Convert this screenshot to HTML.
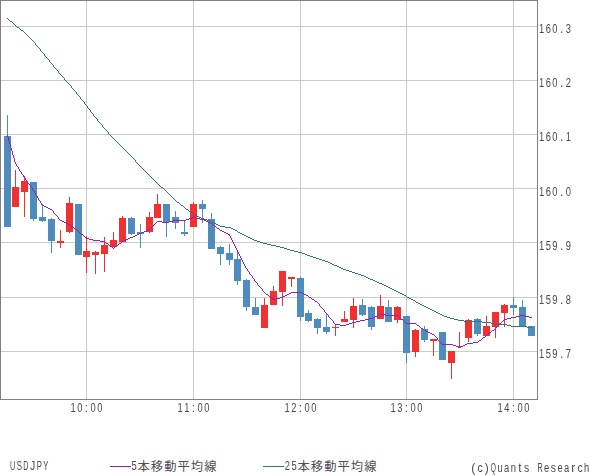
<!DOCTYPE html>
<html lang="ja"><head><meta charset="utf-8"><title>USDJPY</title>
<style>html,body{margin:0;padding:0;background:#fff;}body{width:600px;height:475px;overflow:hidden;font-family:"Liberation Sans",sans-serif;}svg{display:block;}</style>
</head><body>
<svg width="600" height="475" viewBox="0 0 600 475">
<rect x="0" y="0" width="600" height="475" fill="#ffffff"/>
<g shape-rendering="crispEdges" fill="#cbcbcb">
<rect x="1" y="26" width="536" height="1"/>
<rect x="1" y="80" width="536" height="1"/>
<rect x="1" y="134" width="536" height="1"/>
<rect x="1" y="188" width="536" height="1"/>
<rect x="1" y="242" width="536" height="1"/>
<rect x="1" y="297" width="536" height="1"/>
<rect x="1" y="351" width="536" height="1"/>
<rect x="86" y="1" width="1" height="398"/>
<rect x="193" y="1" width="1" height="398"/>
<rect x="300" y="1" width="1" height="398"/>
<rect x="406" y="1" width="1" height="398"/>
<rect x="513" y="1" width="1" height="398"/>
</g>
<g>
<rect x="7" y="115" width="1" height="112" fill="#4d8cbc"/>
<rect x="4" y="136" width="7" height="91" fill="#4d8cbc"/>
<rect x="15" y="170" width="1" height="37" fill="#f23030"/>
<rect x="12" y="187" width="7" height="20" fill="#f23030"/>
<rect x="24" y="176" width="1" height="41" fill="#f23030"/>
<rect x="21" y="181" width="7" height="11" fill="#f23030"/>
<rect x="33" y="182" width="1" height="39" fill="#4d8cbc"/>
<rect x="30" y="182" width="7" height="37" fill="#4d8cbc"/>
<rect x="42" y="204" width="1" height="18" fill="#4d8cbc"/>
<rect x="39" y="217" width="7" height="4" fill="#4d8cbc"/>
<rect x="51" y="218" width="1" height="35" fill="#4d8cbc"/>
<rect x="48" y="219" width="7" height="22" fill="#4d8cbc"/>
<rect x="60" y="230" width="1" height="18" fill="#f23030"/>
<rect x="57" y="241" width="7" height="2" fill="#f23030"/>
<rect x="69" y="197" width="1" height="36" fill="#f23030"/>
<rect x="66" y="203" width="7" height="29" fill="#f23030"/>
<rect x="78" y="204" width="1" height="51" fill="#4d8cbc"/>
<rect x="75" y="204" width="7" height="51" fill="#4d8cbc"/>
<rect x="86" y="236" width="1" height="37" fill="#f23030"/>
<rect x="83" y="251" width="7" height="6" fill="#f23030"/>
<rect x="95" y="251" width="1" height="23" fill="#f23030"/>
<rect x="92" y="252" width="7" height="3" fill="#f23030"/>
<rect x="104" y="237" width="1" height="35" fill="#f23030"/>
<rect x="101" y="245" width="7" height="9" fill="#f23030"/>
<rect x="113" y="232" width="1" height="15" fill="#f23030"/>
<rect x="110" y="240" width="7" height="7" fill="#f23030"/>
<rect x="122" y="216" width="1" height="26" fill="#f23030"/>
<rect x="119" y="218" width="7" height="24" fill="#f23030"/>
<rect x="131" y="217" width="1" height="18" fill="#4d8cbc"/>
<rect x="128" y="218" width="7" height="16" fill="#4d8cbc"/>
<rect x="140" y="224" width="1" height="24" fill="#4d8cbc"/>
<rect x="137" y="232" width="7" height="2" fill="#4d8cbc"/>
<rect x="149" y="212" width="1" height="21" fill="#f23030"/>
<rect x="146" y="217" width="7" height="15" fill="#f23030"/>
<rect x="157" y="194" width="1" height="24" fill="#f23030"/>
<rect x="154" y="204" width="7" height="14" fill="#f23030"/>
<rect x="166" y="204" width="1" height="33" fill="#4d8cbc"/>
<rect x="163" y="204" width="7" height="18" fill="#4d8cbc"/>
<rect x="175" y="211" width="1" height="18" fill="#4d8cbc"/>
<rect x="172" y="217" width="7" height="6" fill="#4d8cbc"/>
<rect x="184" y="220" width="1" height="16" fill="#4d8cbc"/>
<rect x="181" y="232" width="7" height="2" fill="#4d8cbc"/>
<rect x="193" y="202" width="1" height="25" fill="#f23030"/>
<rect x="190" y="204" width="7" height="23" fill="#f23030"/>
<rect x="202" y="200" width="1" height="23" fill="#4d8cbc"/>
<rect x="199" y="204" width="7" height="5" fill="#4d8cbc"/>
<rect x="211" y="213" width="1" height="36" fill="#4d8cbc"/>
<rect x="208" y="219" width="7" height="30" fill="#4d8cbc"/>
<rect x="220" y="246" width="1" height="19" fill="#4d8cbc"/>
<rect x="217" y="247" width="7" height="7" fill="#4d8cbc"/>
<rect x="229" y="244" width="1" height="21" fill="#4d8cbc"/>
<rect x="226" y="253" width="7" height="7" fill="#4d8cbc"/>
<rect x="237" y="251" width="1" height="34" fill="#4d8cbc"/>
<rect x="234" y="259" width="7" height="22" fill="#4d8cbc"/>
<rect x="246" y="279" width="1" height="32" fill="#4d8cbc"/>
<rect x="243" y="280" width="7" height="27" fill="#4d8cbc"/>
<rect x="255" y="298" width="1" height="17" fill="#4d8cbc"/>
<rect x="252" y="307" width="7" height="8" fill="#4d8cbc"/>
<rect x="264" y="298" width="1" height="30" fill="#f23030"/>
<rect x="261" y="305" width="7" height="23" fill="#f23030"/>
<rect x="273" y="286" width="1" height="19" fill="#f23030"/>
<rect x="270" y="291" width="7" height="14" fill="#f23030"/>
<rect x="282" y="271" width="1" height="35" fill="#f23030"/>
<rect x="279" y="271" width="7" height="21" fill="#f23030"/>
<rect x="291" y="277" width="1" height="10" fill="#f23030"/>
<rect x="288" y="277" width="7" height="2" fill="#f23030"/>
<rect x="300" y="277" width="1" height="44" fill="#4d8cbc"/>
<rect x="297" y="278" width="7" height="39" fill="#4d8cbc"/>
<rect x="308" y="310" width="1" height="12" fill="#4d8cbc"/>
<rect x="305" y="313" width="7" height="8" fill="#4d8cbc"/>
<rect x="317" y="318" width="1" height="16" fill="#4d8cbc"/>
<rect x="314" y="319" width="7" height="9" fill="#4d8cbc"/>
<rect x="326" y="313" width="1" height="21" fill="#4d8cbc"/>
<rect x="323" y="327" width="7" height="5" fill="#4d8cbc"/>
<rect x="335" y="324" width="1" height="12" fill="#f23030"/>
<rect x="332" y="327" width="7" height="1" fill="#f23030"/>
<rect x="344" y="311" width="1" height="11" fill="#f23030"/>
<rect x="341" y="319" width="7" height="3" fill="#f23030"/>
<rect x="353" y="298" width="1" height="30" fill="#f23030"/>
<rect x="350" y="306" width="7" height="14" fill="#f23030"/>
<rect x="362" y="299" width="1" height="17" fill="#4d8cbc"/>
<rect x="359" y="305" width="7" height="10" fill="#4d8cbc"/>
<rect x="371" y="306" width="1" height="24" fill="#4d8cbc"/>
<rect x="368" y="307" width="7" height="20" fill="#4d8cbc"/>
<rect x="380" y="295" width="1" height="24" fill="#f23030"/>
<rect x="377" y="306" width="7" height="13" fill="#f23030"/>
<rect x="388" y="300" width="1" height="22" fill="#4d8cbc"/>
<rect x="385" y="307" width="7" height="15" fill="#4d8cbc"/>
<rect x="397" y="306" width="1" height="17" fill="#f23030"/>
<rect x="394" y="307" width="7" height="13" fill="#f23030"/>
<rect x="406" y="316" width="1" height="47" fill="#4d8cbc"/>
<rect x="403" y="316" width="7" height="37" fill="#4d8cbc"/>
<rect x="415" y="329" width="1" height="28" fill="#f23030"/>
<rect x="412" y="330" width="7" height="22" fill="#f23030"/>
<rect x="424" y="326" width="1" height="16" fill="#4d8cbc"/>
<rect x="421" y="329" width="7" height="11" fill="#4d8cbc"/>
<rect x="433" y="339" width="1" height="17" fill="#f23030"/>
<rect x="430" y="339" width="7" height="2" fill="#f23030"/>
<rect x="442" y="332" width="1" height="28" fill="#4d8cbc"/>
<rect x="439" y="332" width="7" height="28" fill="#4d8cbc"/>
<rect x="451" y="351" width="1" height="28" fill="#f23030"/>
<rect x="448" y="351" width="7" height="12" fill="#f23030"/>
<rect x="459" y="332" width="1" height="15" fill="#f23030"/>
<rect x="456" y="346" width="7" height="1" fill="#f23030"/>
<rect x="468" y="319" width="1" height="23" fill="#f23030"/>
<rect x="465" y="320" width="7" height="18" fill="#f23030"/>
<rect x="477" y="318" width="1" height="18" fill="#4d8cbc"/>
<rect x="474" y="319" width="7" height="15" fill="#4d8cbc"/>
<rect x="486" y="316" width="1" height="20" fill="#f23030"/>
<rect x="483" y="326" width="7" height="10" fill="#f23030"/>
<rect x="495" y="312" width="1" height="26" fill="#f23030"/>
<rect x="492" y="312" width="7" height="15" fill="#f23030"/>
<rect x="504" y="304" width="1" height="23" fill="#f23030"/>
<rect x="501" y="305" width="7" height="8" fill="#f23030"/>
<rect x="513" y="297" width="1" height="18" fill="#4d8cbc"/>
<rect x="510" y="305" width="7" height="3" fill="#4d8cbc"/>
<rect x="522" y="300" width="1" height="26" fill="#4d8cbc"/>
<rect x="519" y="307" width="7" height="19" fill="#4d8cbc"/>
<rect x="531" y="326" width="1" height="10" fill="#4d8cbc"/>
<rect x="528" y="326" width="7" height="10" fill="#4d8cbc"/>
</g>
<path fill="#2c7979" shape-rendering="crispEdges" d="M7 18h1v1h-1zM8 19h1v1h-1zM9 20h1v1h-1zM10 21h2v1h-2zM12 22h1v1h-1zM13 23h1v1h-1zM14 24h1v1h-1zM15 25h1v1h-1zM16 26h1v1h-1zM17 27h2v1h-2zM19 28h1v1h-1zM20 29h1v1h-1zM21 30h2v1h-2zM23 31h1v1h-1zM24 32h1v1h-1zM25 33h1v1h-1zM26 34h1v1h-1zM27 35h1v1h-1zM28 36h1v1h-1zM29 37h1v1h-1zM30 38h1v1h-1zM31 39h1v1h-1zM32 40h1v1h-1zM33 41h1v1h-1zM34 42h1v1h-1zM35 43h1v1h-1zM35 44h1v1h-1zM36 45h1v1h-1zM37 46h1v1h-1zM38 47h1v1h-1zM39 48h1v1h-1zM40 49h1v1h-1zM40 50h1v1h-1zM41 51h1v1h-1zM42 52h1v1h-1zM43 53h1v1h-1zM44 54h1v1h-1zM44 55h1v1h-1zM45 56h1v1h-1zM46 57h1v1h-1zM47 58h1v1h-1zM48 59h1v1h-1zM49 60h1v1h-1zM49 61h1v1h-1zM50 62h1v1h-1zM51 63h1v1h-1zM52 64h1v1h-1zM53 65h1v1h-1zM53 66h1v1h-1zM54 67h1v1h-1zM55 68h1v1h-1zM56 69h1v1h-1zM57 70h1v1h-1zM58 71h1v1h-1zM58 72h1v1h-1zM59 73h1v1h-1zM60 74h1v1h-1zM61 75h1v1h-1zM62 76h1v1h-1zM63 77h1v1h-1zM64 78h1v1h-1zM64 79h1v1h-1zM65 80h1v1h-1zM66 81h1v1h-1zM67 82h1v1h-1zM68 83h1v1h-1zM69 84h1v1h-1zM70 85h1v1h-1zM71 86h1v1h-1zM71 87h1v1h-1zM72 88h1v1h-1zM73 89h1v1h-1zM74 90h1v1h-1zM75 91h1v1h-1zM76 92h1v1h-1zM76 93h1v1h-1zM77 94h1v1h-1zM78 95h1v1h-1zM79 96h1v1h-1zM80 97h1v1h-1zM80 98h1v1h-1zM81 99h1v1h-1zM82 100h1v1h-1zM83 101h1v1h-1zM84 102h1v1h-1zM84 103h1v1h-1zM85 104h1v1h-1zM86 105h1v1h-1zM87 106h1v1h-1zM87 107h1v1h-1zM88 108h1v1h-1zM89 109h1v1h-1zM90 110h1v1h-1zM90 111h1v1h-1zM91 112h1v1h-1zM92 113h1v1h-1zM93 114h1v1h-1zM93 115h1v1h-1zM94 116h1v1h-1zM95 117h1v1h-1zM96 118h1v1h-1zM97 119h1v1h-1zM97 120h1v1h-1zM98 121h1v1h-1zM99 122h1v1h-1zM100 123h1v1h-1zM101 124h1v1h-1zM102 125h1v1h-1zM102 126h1v1h-1zM103 127h1v1h-1zM104 128h1v1h-1zM105 129h1v1h-1zM106 130h1v1h-1zM107 131h1v1h-1zM108 132h1v1h-1zM108 133h1v1h-1zM109 134h1v1h-1zM110 135h1v1h-1zM111 136h1v1h-1zM112 137h1v1h-1zM113 138h1v1h-1zM114 139h1v1h-1zM115 140h1v1h-1zM116 141h1v1h-1zM117 142h1v1h-1zM118 143h1v1h-1zM119 144h1v1h-1zM120 145h1v1h-1zM121 146h1v1h-1zM122 147h1v1h-1zM123 148h1v1h-1zM124 149h1v1h-1zM125 150h1v1h-1zM126 151h1v1h-1zM127 152h1v1h-1zM128 153h1v1h-1zM129 154h1v1h-1zM130 155h1v1h-1zM131 156h1v1h-1zM132 157h1v1h-1zM133 158h1v1h-1zM134 159h1v1h-1zM135 160h1v1h-1zM135 161h1v1h-1zM136 162h1v1h-1zM137 163h1v1h-1zM138 164h1v1h-1zM139 165h1v1h-1zM140 166h1v1h-1zM141 167h1v1h-1zM142 168h1v1h-1zM143 169h1v1h-1zM144 170h1v1h-1zM145 171h1v1h-1zM146 172h1v1h-1zM147 173h1v1h-1zM148 174h1v1h-1zM149 175h1v1h-1zM150 176h1v1h-1zM151 177h1v1h-1zM152 178h1v1h-1zM153 179h1v1h-1zM154 180h1v1h-1zM155 181h1v1h-1zM156 182h1v1h-1zM157 183h1v1h-1zM158 184h1v1h-1zM159 185h1v1h-1zM160 186h1v1h-1zM161 187h2v1h-2zM163 188h1v1h-1zM164 189h1v1h-1zM165 190h1v1h-1zM166 191h1v1h-1zM167 192h1v1h-1zM168 193h1v1h-1zM169 194h1v1h-1zM170 195h1v1h-1zM171 196h1v1h-1zM172 197h1v1h-1zM173 198h1v1h-1zM174 199h1v1h-1zM175 200h1v1h-1zM176 201h1v1h-1zM177 202h2v1h-2zM179 203h1v1h-1zM180 204h1v1h-1zM181 205h2v1h-2zM183 206h1v1h-1zM184 207h1v1h-1zM185 208h1v1h-1zM186 209h2v1h-2zM188 210h1v1h-1zM189 211h1v1h-1zM190 212h2v1h-2zM192 213h1v1h-1zM193 214h2v1h-2zM195 215h2v1h-2zM197 216h2v1h-2zM199 217h2v1h-2zM201 218h3v1h-3zM204 219h3v1h-3zM207 220h3v1h-3zM210 221h2v1h-2zM212 222h2v1h-2zM214 223h2v1h-2zM216 224h2v1h-2zM218 225h2v1h-2zM220 226h5v1h-5zM225 227h6v1h-6zM231 228h2v1h-2zM233 229h2v1h-2zM235 230h2v1h-2zM237 231h1v1h-1zM238 232h2v1h-2zM240 233h2v1h-2zM242 234h2v1h-2zM244 235h2v1h-2zM246 236h2v1h-2zM248 237h2v1h-2zM250 238h2v1h-2zM252 239h2v1h-2zM254 240h3v1h-3zM257 241h3v1h-3zM260 242h3v1h-3zM263 243h4v1h-4zM267 244h4v1h-4zM271 245h5v1h-5zM276 246h4v1h-4zM280 247h4v1h-4zM284 248h3v1h-3zM287 249h3v1h-3zM290 250h4v1h-4zM294 251h4v1h-4zM298 252h4v1h-4zM302 253h3v1h-3zM305 254h2v1h-2zM307 255h3v1h-3zM310 256h3v1h-3zM313 257h3v1h-3zM316 258h3v1h-3zM319 259h3v1h-3zM322 260h3v1h-3zM325 261h3v1h-3zM328 262h2v1h-2zM330 263h2v1h-2zM332 264h2v1h-2zM334 265h3v1h-3zM337 266h2v1h-2zM339 267h2v1h-2zM341 268h2v1h-2zM343 269h3v1h-3zM346 270h3v1h-3zM349 271h3v1h-3zM352 272h3v1h-3zM355 273h3v1h-3zM358 274h3v1h-3zM361 275h3v1h-3zM364 276h2v1h-2zM366 277h2v1h-2zM368 278h2v1h-2zM370 279h3v1h-3zM373 280h2v1h-2zM375 281h2v1h-2zM377 282h2v1h-2zM379 283h3v1h-3zM382 284h2v1h-2zM384 285h2v1h-2zM386 286h2v1h-2zM388 287h2v1h-2zM390 288h2v1h-2zM392 289h2v1h-2zM394 290h2v1h-2zM396 291h2v1h-2zM398 292h2v1h-2zM400 293h2v1h-2zM402 294h2v1h-2zM404 295h2v1h-2zM406 296h1v1h-1zM407 297h2v1h-2zM409 298h2v1h-2zM411 299h2v1h-2zM413 300h2v1h-2zM415 301h1v1h-1zM416 302h2v1h-2zM418 303h2v1h-2zM420 304h2v1h-2zM422 305h2v1h-2zM424 306h2v1h-2zM426 307h2v1h-2zM428 308h2v1h-2zM430 309h2v1h-2zM432 310h2v1h-2zM434 311h2v1h-2zM436 312h2v1h-2zM438 313h2v1h-2zM440 314h2v1h-2zM442 315h2v1h-2zM444 316h3v1h-3zM447 317h3v1h-3zM450 318h4v1h-4zM454 319h4v1h-4zM458 320h6v1h-6zM464 321h18v1h-18zM482 322h9v1h-9zM491 323h9v1h-9zM500 324h7v1h-7zM507 325h4v1h-4zM511 326h16v1h-16zM527 327h5v1h-5z"/>
<path fill="#9b1cb6" shape-rendering="crispEdges" d="M7 135h1v1h-1zM7 136h1v1h-1zM8 137h1v1h-1zM8 138h1v1h-1zM8 139h1v1h-1zM8 140h1v1h-1zM9 141h1v1h-1zM9 142h1v1h-1zM9 143h1v1h-1zM10 144h1v1h-1zM10 145h1v1h-1zM10 146h1v1h-1zM10 147h1v1h-1zM11 148h1v1h-1zM11 149h1v1h-1zM11 150h1v1h-1zM12 151h1v1h-1zM12 152h1v1h-1zM12 153h1v1h-1zM12 154h1v1h-1zM13 155h1v1h-1zM13 156h1v1h-1zM13 157h1v1h-1zM14 158h1v1h-1zM14 159h1v1h-1zM14 160h1v1h-1zM14 161h1v1h-1zM15 162h1v1h-1zM15 163h1v1h-1zM16 164h1v1h-1zM16 165h1v1h-1zM17 166h1v1h-1zM18 167h1v1h-1zM18 168h1v1h-1zM19 169h1v1h-1zM19 170h1v1h-1zM20 171h1v1h-1zM21 172h1v1h-1zM21 173h1v1h-1zM22 174h1v1h-1zM23 175h1v1h-1zM23 176h1v1h-1zM24 177h1v1h-1zM25 178h1v1h-1zM25 179h1v1h-1zM26 180h1v1h-1zM27 181h1v1h-1zM27 182h1v1h-1zM28 183h1v1h-1zM29 184h1v1h-1zM30 185h1v1h-1zM30 186h1v1h-1zM31 187h1v1h-1zM32 188h1v1h-1zM32 189h1v1h-1zM33 190h1v1h-1zM34 191h1v1h-1zM34 192h1v1h-1zM35 193h1v1h-1zM35 194h1v1h-1zM36 195h1v1h-1zM37 196h1v1h-1zM37 197h1v1h-1zM38 198h1v1h-1zM38 199h1v1h-1zM39 200h1v1h-1zM40 201h1v1h-1zM40 202h1v1h-1zM41 203h1v1h-1zM41 204h1v1h-1zM42 205h2v1h-2zM44 206h2v1h-2zM46 207h2v1h-2zM48 208h2v1h-2zM50 209h2v1h-2zM52 210h1v1h-1zM53 211h1v1h-1zM53 212h1v1h-1zM54 213h1v1h-1zM55 214h1v1h-1zM56 215h1v1h-1zM57 216h1v1h-1zM58 217h1v1h-1zM192 217h4v1h-4zM58 218h1v1h-1zM189 218h3v1h-3zM196 218h4v1h-4zM59 219h1v1h-1zM186 219h3v1h-3zM200 219h4v1h-4zM60 220h2v1h-2zM173 220h13v1h-13zM204 220h2v1h-2zM62 221h2v1h-2zM157 221h5v1h-5zM169 221h4v1h-4zM206 221h2v1h-2zM64 222h2v1h-2zM156 222h1v1h-1zM162 222h7v1h-7zM208 222h2v1h-2zM66 223h2v1h-2zM155 223h1v1h-1zM210 223h2v1h-2zM68 224h2v1h-2zM154 224h1v1h-1zM212 224h1v1h-1zM70 225h1v1h-1zM153 225h1v1h-1zM213 225h2v1h-2zM71 226h2v1h-2zM152 226h1v1h-1zM215 226h1v1h-1zM73 227h1v1h-1zM151 227h1v1h-1zM216 227h1v1h-1zM74 228h1v1h-1zM150 228h1v1h-1zM217 228h2v1h-2zM75 229h2v1h-2zM148 229h2v1h-2zM219 229h1v1h-1zM77 230h1v1h-1zM146 230h2v1h-2zM220 230h2v1h-2zM78 231h1v1h-1zM144 231h2v1h-2zM222 231h2v1h-2zM79 232h1v1h-1zM142 232h2v1h-2zM224 232h2v1h-2zM80 233h1v1h-1zM139 233h3v1h-3zM226 233h2v1h-2zM81 234h2v1h-2zM137 234h2v1h-2zM228 234h2v1h-2zM83 235h1v1h-1zM135 235h2v1h-2zM229 235h1v1h-1zM84 236h1v1h-1zM133 236h2v1h-2zM230 236h1v1h-1zM85 237h1v1h-1zM130 237h3v1h-3zM230 237h1v1h-1zM86 238h3v1h-3zM128 238h2v1h-2zM231 238h1v1h-1zM89 239h4v1h-4zM126 239h2v1h-2zM231 239h1v1h-1zM93 240h7v1h-7zM124 240h2v1h-2zM232 240h1v1h-1zM100 241h5v1h-5zM122 241h2v1h-2zM232 241h1v1h-1zM105 242h1v1h-1zM121 242h1v1h-1zM233 242h1v1h-1zM106 243h2v1h-2zM119 243h2v1h-2zM233 243h1v1h-1zM108 244h1v1h-1zM118 244h1v1h-1zM234 244h1v1h-1zM109 245h1v1h-1zM117 245h1v1h-1zM234 245h1v1h-1zM110 246h2v1h-2zM115 246h2v1h-2zM235 246h1v1h-1zM112 247h1v1h-1zM114 247h1v1h-1zM235 247h1v1h-1zM113 248h1v1h-1zM236 248h1v1h-1zM236 249h1v1h-1zM237 250h1v1h-1zM237 251h1v1h-1zM238 252h1v1h-1zM238 253h1v1h-1zM239 254h1v1h-1zM239 255h1v1h-1zM240 256h1v1h-1zM240 257h1v1h-1zM241 258h1v1h-1zM241 259h1v1h-1zM242 260h1v1h-1zM242 261h1v1h-1zM243 262h1v1h-1zM243 263h1v1h-1zM244 264h1v1h-1zM244 265h1v1h-1zM245 266h1v1h-1zM245 267h1v1h-1zM246 268h1v1h-1zM247 269h1v1h-1zM247 270h1v1h-1zM248 271h1v1h-1zM249 272h1v1h-1zM249 273h1v1h-1zM250 274h1v1h-1zM251 275h1v1h-1zM252 276h1v1h-1zM252 277h1v1h-1zM253 278h1v1h-1zM254 279h1v1h-1zM254 280h1v1h-1zM255 281h1v1h-1zM256 282h1v1h-1zM257 283h1v1h-1zM257 284h1v1h-1zM258 285h1v1h-1zM259 286h1v1h-1zM260 287h1v1h-1zM261 288h1v1h-1zM262 289h1v1h-1zM262 290h1v1h-1zM263 291h1v1h-1zM264 292h1v1h-1zM291 292h11v1h-11zM265 293h1v1h-1zM289 293h2v1h-2zM302 293h2v1h-2zM266 294h2v1h-2zM287 294h2v1h-2zM304 294h2v1h-2zM268 295h1v1h-1zM285 295h2v1h-2zM306 295h2v1h-2zM269 296h1v1h-1zM283 296h2v1h-2zM308 296h1v1h-1zM270 297h2v1h-2zM280 297h3v1h-3zM309 297h2v1h-2zM272 298h1v1h-1zM276 298h4v1h-4zM311 298h1v1h-1zM273 299h3v1h-3zM312 299h2v1h-2zM314 300h1v1h-1zM315 301h2v1h-2zM317 302h1v1h-1zM318 303h1v1h-1zM319 304h1v1h-1zM319 305h1v1h-1zM320 306h1v1h-1zM321 307h1v1h-1zM322 308h1v1h-1zM323 309h1v1h-1zM324 310h1v1h-1zM324 311h1v1h-1zM325 312h1v1h-1zM326 313h1v1h-1zM327 314h1v1h-1zM379 314h6v1h-6zM328 315h1v1h-1zM377 315h2v1h-2zM385 315h13v1h-13zM520 315h5v1h-5zM328 316h1v1h-1zM375 316h2v1h-2zM398 316h1v1h-1zM516 316h4v1h-4zM525 316h4v1h-4zM329 317h1v1h-1zM373 317h2v1h-2zM399 317h1v1h-1zM511 317h5v1h-5zM529 317h3v1h-3zM330 318h1v1h-1zM369 318h4v1h-4zM400 318h1v1h-1zM507 318h4v1h-4zM331 319h1v1h-1zM365 319h4v1h-4zM401 319h2v1h-2zM504 319h3v1h-3zM332 320h1v1h-1zM360 320h5v1h-5zM403 320h1v1h-1zM503 320h1v1h-1zM333 321h1v1h-1zM356 321h4v1h-4zM404 321h1v1h-1zM502 321h1v1h-1zM333 322h1v1h-1zM352 322h4v1h-4zM405 322h1v1h-1zM501 322h1v1h-1zM334 323h1v1h-1zM349 323h3v1h-3zM406 323h10v1h-10zM500 323h1v1h-1zM335 324h5v1h-5zM346 324h3v1h-3zM416 324h1v1h-1zM499 324h1v1h-1zM340 325h6v1h-6zM417 325h2v1h-2zM498 325h1v1h-1zM419 326h1v1h-1zM497 326h1v1h-1zM420 327h1v1h-1zM496 327h1v1h-1zM421 328h2v1h-2zM495 328h1v1h-1zM423 329h1v1h-1zM494 329h1v1h-1zM424 330h2v1h-2zM492 330h2v1h-2zM426 331h2v1h-2zM491 331h1v1h-1zM428 332h2v1h-2zM490 332h1v1h-1zM430 333h2v1h-2zM488 333h2v1h-2zM432 334h2v1h-2zM487 334h1v1h-1zM434 335h1v1h-1zM486 335h1v1h-1zM435 336h1v1h-1zM485 336h1v1h-1zM436 337h1v1h-1zM483 337h2v1h-2zM437 338h1v1h-1zM482 338h1v1h-1zM437 339h1v1h-1zM481 339h1v1h-1zM438 340h1v1h-1zM479 340h2v1h-2zM439 341h1v1h-1zM478 341h1v1h-1zM440 342h1v1h-1zM473 342h5v1h-5zM441 343h1v1h-1zM467 343h6v1h-6zM442 344h11v1h-11zM465 344h2v1h-2zM453 345h3v1h-3zM463 345h2v1h-2zM456 346h2v1h-2zM461 346h2v1h-2zM458 347h3v1h-3z"/>
<g shape-rendering="crispEdges" fill="#808080">
<rect x="0" y="0" width="538" height="1"/><rect x="0" y="399" width="538" height="1"/><rect x="0" y="0" width="1" height="400"/><rect x="537" y="0" width="1" height="400"/>
</g>
<g font-family="Liberation Sans, sans-serif" fill="#4a4a4a" style="filter:grayscale(1)">
<text y="33" text-anchor="middle" font-size="12"><tspan x="541.63" textLength="5.2" lengthAdjust="spacingAndGlyphs">1</tspan><tspan x="548.3" textLength="5.2" lengthAdjust="spacingAndGlyphs">6</tspan><tspan x="554.97" textLength="5.2" lengthAdjust="spacingAndGlyphs">0</tspan><tspan x="561.63">.</tspan><tspan x="568.3" textLength="5.2" lengthAdjust="spacingAndGlyphs">3</tspan></text>
<text y="87" text-anchor="middle" font-size="12"><tspan x="541.63" textLength="5.2" lengthAdjust="spacingAndGlyphs">1</tspan><tspan x="548.3" textLength="5.2" lengthAdjust="spacingAndGlyphs">6</tspan><tspan x="554.97" textLength="5.2" lengthAdjust="spacingAndGlyphs">0</tspan><tspan x="561.63">.</tspan><tspan x="568.3" textLength="5.2" lengthAdjust="spacingAndGlyphs">2</tspan></text>
<text y="141" text-anchor="middle" font-size="12"><tspan x="541.63" textLength="5.2" lengthAdjust="spacingAndGlyphs">1</tspan><tspan x="548.3" textLength="5.2" lengthAdjust="spacingAndGlyphs">6</tspan><tspan x="554.97" textLength="5.2" lengthAdjust="spacingAndGlyphs">0</tspan><tspan x="561.63">.</tspan><tspan x="568.3" textLength="5.2" lengthAdjust="spacingAndGlyphs">1</tspan></text>
<text y="196" text-anchor="middle" font-size="12"><tspan x="541.63" textLength="5.2" lengthAdjust="spacingAndGlyphs">1</tspan><tspan x="548.3" textLength="5.2" lengthAdjust="spacingAndGlyphs">6</tspan><tspan x="554.97" textLength="5.2" lengthAdjust="spacingAndGlyphs">0</tspan><tspan x="561.63">.</tspan><tspan x="568.3" textLength="5.2" lengthAdjust="spacingAndGlyphs">0</tspan></text>
<text y="250" text-anchor="middle" font-size="12"><tspan x="541.63" textLength="5.2" lengthAdjust="spacingAndGlyphs">1</tspan><tspan x="548.3" textLength="5.2" lengthAdjust="spacingAndGlyphs">5</tspan><tspan x="554.97" textLength="5.2" lengthAdjust="spacingAndGlyphs">9</tspan><tspan x="561.63">.</tspan><tspan x="568.3" textLength="5.2" lengthAdjust="spacingAndGlyphs">9</tspan></text>
<text y="304" text-anchor="middle" font-size="12"><tspan x="541.63" textLength="5.2" lengthAdjust="spacingAndGlyphs">1</tspan><tspan x="548.3" textLength="5.2" lengthAdjust="spacingAndGlyphs">5</tspan><tspan x="554.97" textLength="5.2" lengthAdjust="spacingAndGlyphs">9</tspan><tspan x="561.63">.</tspan><tspan x="568.3" textLength="5.2" lengthAdjust="spacingAndGlyphs">8</tspan></text>
<text y="358" text-anchor="middle" font-size="12"><tspan x="541.63" textLength="5.2" lengthAdjust="spacingAndGlyphs">1</tspan><tspan x="548.3" textLength="5.2" lengthAdjust="spacingAndGlyphs">5</tspan><tspan x="554.97" textLength="5.2" lengthAdjust="spacingAndGlyphs">9</tspan><tspan x="561.63">.</tspan><tspan x="568.3" textLength="5.2" lengthAdjust="spacingAndGlyphs">7</tspan></text>
<text y="412" text-anchor="middle" font-size="12"><tspan x="73.16" textLength="5.2" lengthAdjust="spacingAndGlyphs">1</tspan><tspan x="79.83" textLength="5.2" lengthAdjust="spacingAndGlyphs">0</tspan><tspan x="86.5">:</tspan><tspan x="93.16" textLength="5.2" lengthAdjust="spacingAndGlyphs">0</tspan><tspan x="99.83" textLength="5.2" lengthAdjust="spacingAndGlyphs">0</tspan></text>
<text y="412" text-anchor="middle" font-size="12"><tspan x="180.16" textLength="5.2" lengthAdjust="spacingAndGlyphs">1</tspan><tspan x="186.83" textLength="5.2" lengthAdjust="spacingAndGlyphs">1</tspan><tspan x="193.5">:</tspan><tspan x="200.16" textLength="5.2" lengthAdjust="spacingAndGlyphs">0</tspan><tspan x="206.83" textLength="5.2" lengthAdjust="spacingAndGlyphs">0</tspan></text>
<text y="412" text-anchor="middle" font-size="12"><tspan x="287.16" textLength="5.2" lengthAdjust="spacingAndGlyphs">1</tspan><tspan x="293.83" textLength="5.2" lengthAdjust="spacingAndGlyphs">2</tspan><tspan x="300.5">:</tspan><tspan x="307.16" textLength="5.2" lengthAdjust="spacingAndGlyphs">0</tspan><tspan x="313.83" textLength="5.2" lengthAdjust="spacingAndGlyphs">0</tspan></text>
<text y="412" text-anchor="middle" font-size="12"><tspan x="393.16" textLength="5.2" lengthAdjust="spacingAndGlyphs">1</tspan><tspan x="399.83" textLength="5.2" lengthAdjust="spacingAndGlyphs">3</tspan><tspan x="406.5">:</tspan><tspan x="413.16" textLength="5.2" lengthAdjust="spacingAndGlyphs">0</tspan><tspan x="419.83" textLength="5.2" lengthAdjust="spacingAndGlyphs">0</tspan></text>
<text y="412" text-anchor="middle" font-size="12"><tspan x="500.16" textLength="5.2" lengthAdjust="spacingAndGlyphs">1</tspan><tspan x="506.83" textLength="5.2" lengthAdjust="spacingAndGlyphs">4</tspan><tspan x="513.5">:</tspan><tspan x="520.16" textLength="5.2" lengthAdjust="spacingAndGlyphs">0</tspan><tspan x="526.83" textLength="5.2" lengthAdjust="spacingAndGlyphs">0</tspan></text>
<text y="470" text-anchor="middle" font-size="12"><tspan x="12.63" textLength="5.2" lengthAdjust="spacingAndGlyphs">U</tspan><tspan x="19.3" textLength="5.2" lengthAdjust="spacingAndGlyphs">S</tspan><tspan x="25.97" textLength="5.2" lengthAdjust="spacingAndGlyphs">D</tspan><tspan x="32.63" textLength="5.2" lengthAdjust="spacingAndGlyphs">J</tspan><tspan x="39.3" textLength="5.2" lengthAdjust="spacingAndGlyphs">P</tspan><tspan x="45.97" textLength="5.2" lengthAdjust="spacingAndGlyphs">Y</tspan></text>
<text y="472" text-anchor="middle" font-size="12"><tspan x="473.33">(</tspan><tspan x="480.0" textLength="5.2" lengthAdjust="spacingAndGlyphs">c</tspan><tspan x="486.67">)</tspan><tspan x="493.33" textLength="5.2" lengthAdjust="spacingAndGlyphs">Q</tspan><tspan x="500.0" textLength="5.2" lengthAdjust="spacingAndGlyphs">u</tspan><tspan x="506.67" textLength="5.2" lengthAdjust="spacingAndGlyphs">a</tspan><tspan x="513.34" textLength="5.2" lengthAdjust="spacingAndGlyphs">n</tspan><tspan x="520.0">t</tspan><tspan x="526.67" textLength="5.2" lengthAdjust="spacingAndGlyphs">s</tspan><tspan x="533.34"> </tspan><tspan x="540.0" textLength="5.2" lengthAdjust="spacingAndGlyphs">R</tspan><tspan x="546.67" textLength="5.2" lengthAdjust="spacingAndGlyphs">e</tspan><tspan x="553.34" textLength="5.2" lengthAdjust="spacingAndGlyphs">s</tspan><tspan x="560.0" textLength="5.2" lengthAdjust="spacingAndGlyphs">e</tspan><tspan x="566.67" textLength="5.2" lengthAdjust="spacingAndGlyphs">a</tspan><tspan x="573.34">r</tspan><tspan x="580.01" textLength="5.2" lengthAdjust="spacingAndGlyphs">c</tspan><tspan x="586.67" textLength="5.2" lengthAdjust="spacingAndGlyphs">h</tspan></text>
</g>
<rect x="110" y="466" width="21" height="1" fill="#9b1cb6" shape-rendering="crispEdges"/>
<rect x="263" y="466" width="21" height="1" fill="#2c7979" shape-rendering="crispEdges"/>
<g font-family="Liberation Sans, sans-serif" fill="#4a4a4a" style="filter:grayscale(1)">
<text y="470" text-anchor="middle" font-size="12"><tspan x="134.13" textLength="5.2" lengthAdjust="spacingAndGlyphs">5</tspan></text>
<text y="470" text-anchor="middle" font-size="12"><tspan x="287.33" textLength="5.2" lengthAdjust="spacingAndGlyphs">2</tspan><tspan x="294.0" textLength="5.2" lengthAdjust="spacingAndGlyphs">5</tspan></text>
</g>
<text x="137.5 150.83 164.17 177.5 190.83 204.17" y="470.8" font-size="12.3" fill="#4c4c4c" font-family="'Liberation Sans', 'Noto Sans CJK JP', sans-serif">本移動平均線</text>
<text x="297.5 310.83 324.17 337.5 350.83 364.17" y="470.8" font-size="12.3" fill="#4c4c4c" font-family="'Liberation Sans', 'Noto Sans CJK JP', sans-serif">本移動平均線</text>
</svg>
</body></html>
